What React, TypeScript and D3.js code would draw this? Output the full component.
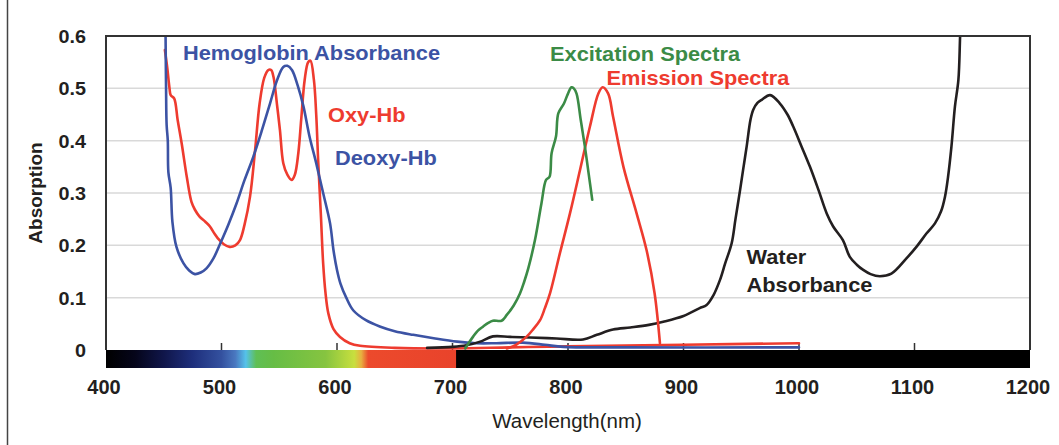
import * as d3 from 'd3';

const W = 1059;
const H = 445;

// absorption values, [wavelength nm, absorption]
const deoxyHb: [number, number][] = [
  [451.5, 0.62], [452, 0.5], [452.5, 0.43], [453.5, 0.4], [454, 0.34], [456, 0.31], [457.5, 0.245],
  [461, 0.197], [467, 0.166], [472, 0.152], [477, 0.145], [482, 0.148], [487, 0.156], [493, 0.175],
  [499, 0.204], [506, 0.24], [513, 0.28], [520, 0.325], [527.5, 0.369], [535, 0.42], [542, 0.471],
  [548, 0.515], [553.5, 0.541], [557, 0.543], [561, 0.535], [566, 0.505], [571, 0.465], [576, 0.41],
  [582, 0.357], [588, 0.3], [594, 0.242], [597, 0.19], [600, 0.153], [603, 0.127], [608, 0.1],
  [614, 0.076], [625, 0.057], [637, 0.045], [650, 0.036], [666, 0.029], [685, 0.022], [704, 0.016],
  [720, 0.013], [738, 0.013], [761, 0.014], [780, 0.01], [796, 0.006], [850, 0.005], [1000, 0.005],
];

const oxyHb: [number, number][] = [
  [451, 0.573], [453, 0.54], [455, 0.5], [456, 0.487], [459, 0.481], [462, 0.44], [465.5, 0.395],
  [470, 0.33], [474, 0.283], [477, 0.268], [481, 0.255], [486, 0.245], [490, 0.236], [494, 0.222],
  [497, 0.213], [502, 0.202], [507, 0.197], [512, 0.2], [516, 0.21], [520, 0.24], [524.7, 0.293],
  [529, 0.38], [533, 0.471], [537, 0.52], [540.5, 0.535], [543, 0.535], [545, 0.522], [548, 0.47],
  [550.6, 0.42], [553.5, 0.357], [557, 0.335], [560.7, 0.325], [563.5, 0.335], [566.5, 0.376],
  [569, 0.44], [572, 0.516], [575, 0.55], [577, 0.553], [580, 0.516], [582, 0.45], [583.8, 0.357],
  [586, 0.26], [588, 0.166], [590, 0.11], [592.5, 0.07], [597, 0.04], [602.6, 0.025], [611, 0.013],
  [620, 0.008], [650, 0.004], [700, 0.003], [750, 0.005], [800, 0.007], [900, 0.01], [1000, 0.013],
];

const excitation: [number, number][] = [
  [711, 0.003], [718, 0.026], [722, 0.037], [726.6, 0.045], [731, 0.052], [735, 0.056], [742.5, 0.056],
  [747, 0.067], [753, 0.085], [758.4, 0.108], [762, 0.13], [765.6, 0.156], [771.4, 0.21], [777, 0.28],
  [781, 0.325], [784, 0.331], [785.8, 0.376], [789.6, 0.408], [791.6, 0.452], [796.5, 0.471],
  [800, 0.49], [803, 0.502], [805, 0.5], [807.4, 0.49], [811, 0.44], [814.6, 0.389], [818, 0.335],
  [821, 0.287],
];

const emission: [number, number][] = [
  [747, 0.003], [755, 0.01], [764, 0.025], [770, 0.04], [775.8, 0.057], [780, 0.08], [784.4, 0.108],
  [793, 0.185], [801.7, 0.261], [810.4, 0.344], [819, 0.427], [826.3, 0.49], [830, 0.502],
  [834.8, 0.49], [839, 0.446], [848, 0.35], [859.4, 0.261], [868, 0.191], [875, 0.108], [879.6, 0.013],
];

const water: [number, number][] = [
  [678, 0.004], [700, 0.006], [712, 0.009], [724, 0.016], [735, 0.026], [750, 0.025], [767, 0.024],
  [790, 0.022], [813, 0.02], [825, 0.029], [839, 0.039], [854, 0.043], [870, 0.048], [882.5, 0.054],
  [900, 0.065], [914, 0.08], [920, 0.086], [926, 0.105], [931.6, 0.134], [936, 0.165], [941.7, 0.204],
  [945, 0.25], [949, 0.306], [952, 0.35], [954.7, 0.389], [958, 0.44], [960.4, 0.459], [964, 0.472],
  [967.7, 0.478], [975, 0.487], [983.5, 0.471], [990, 0.45], [995, 0.427], [1002, 0.39],
  [1009.5, 0.35], [1017, 0.305], [1024, 0.261], [1029.6, 0.236], [1038, 0.21], [1044, 0.178],
  [1050, 0.163], [1055.6, 0.153], [1062, 0.145], [1070, 0.141], [1080, 0.146], [1093, 0.175],
  [1102, 0.198], [1110.5, 0.223], [1117.7, 0.242], [1123, 0.265], [1126.4, 0.293], [1129, 0.33],
  [1132, 0.389], [1135, 0.465], [1138, 0.516], [1139.5, 0.6], [1140.5, 0.65],
];

const yTicks = [0, 0.1, 0.2, 0.3, 0.4, 0.5, 0.6];
const xTicks = [400, 500, 600, 700, 800, 900, 1000, 1100, 1200];

// visible spectrum strip under the axis
const spectrumStops: [number, string][] = [
  [400, '#000000'], [425, '#05051a'], [450, '#10164a'], [475, '#1e2f7c'], [500, '#34519f'],
  [512, '#4a78c0'], [521, '#55c2ea'], [530, '#5fbf55'], [545, '#66bd45'], [590, '#86c440'],
  [615, '#c8df3e'], [621, '#e8b040'], [627, '#ec4a2c'], [703, '#e9432b'], [703.5, '#000000'],
  [1200, '#000000'],
];

const BLUE = '#3c53a4';
const RED = '#ee3b2f';
const GREEN = '#3b8b46';
const INK = '#231f20';
const FONT = '"Liberation Sans", Arial, sans-serif';

const x = d3.scaleLinear().domain([400, 1200]).range([106, 1030]);
const y = d3.scaleLinear().domain([0, 0.6]).range([350, 36]);

const line = d3.line<[number, number]>()
  .x(d => x(d[0]))
  .y(d => y(d[1]))
  .curve(d3.curveCatmullRom.alpha(0.5));

const Label = ({ tx, ty, fill, size = 20, weight = 'bold', anchor = 'start', sx = 1.09, children }: any) => (
  <text
    transform={`translate(${tx},${ty}) scale(${sx},1)`}
    fill={fill}
    fontSize={size}
    fontWeight={weight}
    textAnchor={anchor}
    fontFamily={FONT}
  >
    {children}
  </text>
);

export default function App() {
  const [x0, x1] = x.range();
  const [yb, yt] = y.range();

  const series = [
    { data: oxyHb, color: RED },
    { data: deoxyHb, color: BLUE },
    { data: water, color: INK },
    { data: emission, color: RED },
    { data: excitation, color: GREEN },
  ];

  return (
    <div style={{ position: 'absolute', left: 0, top: 0 }}>
      <svg width={W} height={H} style={{ display: 'block', background: '#fff' }}>
        <defs>
          <clipPath id="plot">
            <rect x={x0} y={yt} width={x1 - x0} height={yb - yt} />
          </clipPath>
          <linearGradient id="spec" gradientUnits="userSpaceOnUse" x1={x0} x2={x1} y1={0} y2={0}>
            {spectrumStops.map(([w, c], i) => (
              <stop key={i} offset={(w - 400) / 800} stopColor={c} />
            ))}
          </linearGradient>
        </defs>

        {/* page frame edge */}
        <line x1={7.5} x2={7.5} y1={0} y2={H} stroke="#444" strokeWidth={1.5} />

        {/* grid */}
        {yTicks.filter(v => v > 0 && v < 0.6).map(v => (
          <line key={v} x1={x0} x2={x1} y1={y(v)} y2={y(v)} stroke="#d9d9d9" strokeWidth={1.5} />
        ))}

        {/* tick marks */}
        {xTicks.filter(v => v > 400 && v < 1200).map(v => (
          <line key={v} x1={x(v)} x2={x(v)} y1={yb} y2={yb - 7} stroke="#333" strokeWidth={1.5} />
        ))}

        <g clipPath="url(#plot)" fill="none" strokeWidth={2.6} strokeLinejoin="round" strokeLinecap="round">
          {series.map((s, i) => (
            <path key={i} d={line(s.data) || ''} stroke={s.color} />
          ))}
        </g>

        {/* plot frame */}
        <path d={`M${x0},${yb}V${yt}H${x1}V${yb}`} fill="none" stroke="#333" strokeWidth={2} />
        <rect x={x0} y={yb} width={x1 - x0} height={18} fill="url(#spec)" />

        {/* y axis labels */}
        {yTicks.map(v => (
          <Label key={v} tx={86} ty={y(v) + 7} fill={INK} size={18} anchor="end" sx={1.1}>
            {v === 0 ? '0' : v.toFixed(1)}
          </Label>
        ))}
        <text
          transform={`translate(42,193) rotate(-90)`}
          fill={INK}
          fontSize={19}
          fontWeight="bold"
          textAnchor="middle"
          fontFamily={FONT}
        >
          Absorption
        </text>

        {/* x axis labels */}
        {xTicks.map(v => (
          <Label key={v} tx={x(v) - 2} ty={394} fill={INK} size={20} anchor="middle" sx={1}>
            {v}
          </Label>
        ))}
        <Label tx={567} ty={428} fill={INK} size={20.5} weight="normal" anchor="middle" sx={1}>
          Wavelength(nm)
        </Label>

        {/* curve annotations */}
        <Label tx={183} ty={60} fill={BLUE}>Hemoglobin Absorbance</Label>
        <Label tx={328} ty={122} fill={RED}>Oxy-Hb</Label>
        <Label tx={335} ty={165} fill={BLUE}>Deoxy-Hb</Label>
        <Label tx={550} ty={60.5} fill={GREEN}>Excitation Spectra</Label>
        <Label tx={606.5} ty={85} fill={RED}>Emission Spectra</Label>
        <Label tx={746.5} ty={263.5} fill={INK}>Water</Label>
        <Label tx={746.5} ty={291.5} fill={INK}>Absorbance</Label>
      </svg>
    </div>
  );
}
